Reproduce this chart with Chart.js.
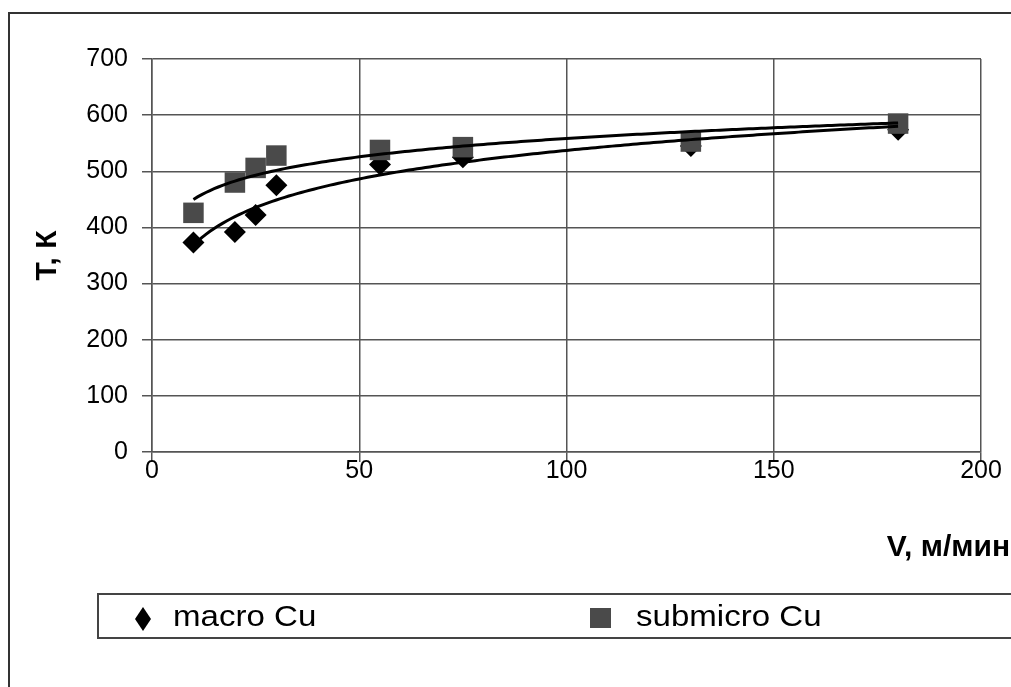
<!DOCTYPE html>
<html>
<head>
<meta charset="utf-8">
<title>T(V)</title>
<script src="https://cdn.jsdelivr.net/npm/chart.js@4/dist/chart.umd.min.js"></script>
<style>
  html, body { margin: 0; padding: 0; background: #ffffff; }
  #wrap { width: 1011px; height: 687px; position: relative; }
</style>
</head>
<body>
<div id="wrap"><canvas id="c" width="1011" height="687"></canvas></div>
<script>
// Cutting speed, m/min
const speeds = [10, 20, 25, 30, 55, 75, 130, 180];
// Temperature, K
const macroCu = [373, 392, 422, 475, 512, 525, 545, 574];
const submicroCu = [426, 480, 506, 528, 538, 543, 553, 585];

const seriesNames = ['macro Cu', 'submicro Cu'];
const xTicks = [0, 50, 100, 150, 200];
const yTicks = [0, 100, 200, 300, 400, 500, 600, 700];
const xTitle = 'V, м/мин';
const yTitle = 'T, К';

// Least-squares fit y = a + b*ln(x), sampled over the measured speed range
function logTrend(xs, ys) {
  const lx = xs.map(Math.log);
  const n = xs.length;
  const mx = lx.reduce((s, v) => s + v, 0) / n;
  const my = ys.reduce((s, v) => s + v, 0) / n;
  let sxy = 0, sxx = 0;
  for (let i = 0; i < n; i++) {
    sxy += (lx[i] - mx) * (ys[i] - my);
    sxx += (lx[i] - mx) * (lx[i] - mx);
  }
  const b = sxy / sxx, a = my - b * mx;
  const lo = Math.min(...xs), hi = Math.max(...xs);
  const pts = [];
  for (let x = lo; x <= hi; x += 1) pts.push({ x, y: a + b * Math.log(x) });
  return pts;
}

const toPoints = (xs, ys) => xs.map((x, i) => ({ x, y: ys[i] }));

const GRID = '#555555';
const MACRO_COLOR = '#000000';
const SUB_COLOR = '#4a4a4a';

// Frame, x-axis title and legend box
const decorations = {
  id: 'decorations',
  afterDraw(chart) {
    const ctx = chart.ctx;
    ctx.save();
    // outer frame
    ctx.strokeStyle = '#333333';
    ctx.lineWidth = 2;
    ctx.beginPath();
    ctx.moveTo(9, 700);
    ctx.lineTo(9, 13);
    ctx.lineTo(1020, 13);
    ctx.stroke();

    // x-axis title, right aligned
    ctx.fillStyle = '#000';
    ctx.font = 'bold 30px "Liberation Sans", Arial, sans-serif';
    ctx.textAlign = 'right';
    ctx.textBaseline = 'alphabetic';
    ctx.fillText(xTitle, 1010, 556);

    // legend box
    ctx.strokeStyle = '#444444';
    ctx.lineWidth = 2;
    ctx.strokeRect(98, 594, 940, 44);

    const ly = 619;
    // diamond
    ctx.fillStyle = MACRO_COLOR;
    ctx.beginPath();
    ctx.moveTo(143, ly - 12);
    ctx.lineTo(151, ly);
    ctx.lineTo(143, ly + 12);
    ctx.lineTo(135, ly);
    ctx.closePath();
    ctx.fill();
    // square
    ctx.fillStyle = SUB_COLOR;
    ctx.fillRect(590, ly - 11, 21, 20);

    ctx.fillStyle = '#000';
    ctx.font = '29px "Liberation Sans", Arial, sans-serif';
    ctx.textAlign = 'left';
    ctx.textBaseline = 'middle';
    const drawStretched = (txt, x) => {
      ctx.save();
      ctx.translate(x, ly - 1);
      ctx.scale(1.14, 1);
      ctx.fillText(txt, 0, 0);
      ctx.restore();
    };
    drawStretched(seriesNames[0], 173);
    drawStretched(seriesNames[1], 636);
    ctx.restore();
  }
};

new Chart(document.getElementById('c'), {
  type: 'scatter',
  data: {
    datasets: [
      {
        label: seriesNames[0] + ' trend',
        data: logTrend(speeds, macroCu),
        showLine: true,
        borderColor: '#000',
        borderWidth: 3,
        pointRadius: 0,
        tension: 0,
        order: 0
      },
      {
        label: seriesNames[1] + ' trend',
        data: logTrend(speeds, submicroCu),
        showLine: true,
        borderColor: '#000',
        borderWidth: 3,
        pointRadius: 0,
        tension: 0,
        order: 0
      },
      {
        label: seriesNames[1],
        data: toPoints(speeds, submicroCu),
        pointStyle: 'rect',
        pointRadius: 14.5,
        backgroundColor: SUB_COLOR,
        borderColor: SUB_COLOR,
        borderWidth: 0,
        order: 1
      },
      {
        label: seriesNames[0],
        data: toPoints(speeds, macroCu),
        pointStyle: 'rectRot',
        pointRadius: 11,
        backgroundColor: MACRO_COLOR,
        borderColor: MACRO_COLOR,
        borderWidth: 0,
        order: 2
      }
    ]
  },
  options: {
    responsive: false,
    animation: false,
    devicePixelRatio: 1,
    layout: { padding: { left: 0, top: 59, right: 30, bottom: 0 } },
    plugins: {
      legend: { display: false },
      tooltip: { enabled: false }
    },
    scales: {
      x: {
        type: 'linear',
        min: 0,
        max: 200,
        afterBuildTicks: (s) => { s.ticks = xTicks.map(v => ({ value: v })); },
        afterFit: (s) => { s.height = 687 - 452; },
        grid: { color: GRID, lineWidth: 1.5, tickLength: 10, tickColor: GRID },
        border: { color: GRID, width: 1.5 },
        ticks: {
          color: '#000',
          padding: -6,
          maxRotation: 0,
          font: { family: '"Liberation Sans", Arial, sans-serif', size: 25 }
        }
      },
      y: {
        type: 'linear',
        min: 0,
        max: 700,
        afterBuildTicks: (s) => { s.ticks = yTicks.map(v => ({ value: v })); },
        afterFit: (s) => { s.width = 152; },
        grid: { color: GRID, lineWidth: 1.5, tickLength: 10, tickColor: GRID },
        border: { color: GRID, width: 1.5 },
        ticks: {
          color: '#000',
          padding: 14,
          font: { family: '"Liberation Sans", Arial, sans-serif', size: 25 }
        },
        title: {
          display: true,
          text: yTitle,
          color: '#000',
          padding: { top: 30, bottom: 0 },
          font: { family: '"Liberation Sans", Arial, sans-serif', size: 30, weight: 'bold' }
        }
      }
    }
  },
  plugins: [decorations]
});
</script>
</body>
</html>
